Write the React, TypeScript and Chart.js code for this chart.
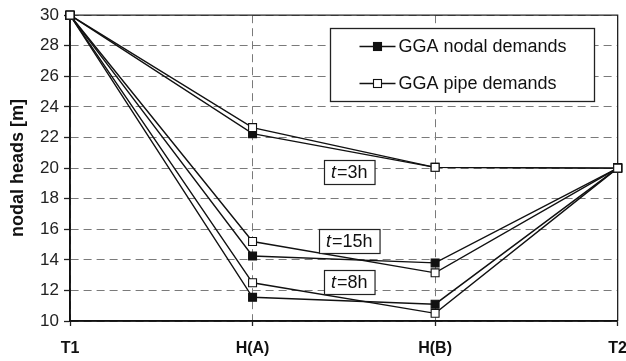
import React, { useEffect, useRef } from 'react';
import { Chart, registerables } from 'chart.js';

Chart.register(...registerables);

const categories = ['T1', 'H(A)', 'H(B)', 'T2'];
const nodal3h = [30, 22.25, 20.05, 20];
const pipe3h = [30, 22.65, 20.05, 20];
const nodal15h = [30, 14.25, 13.8, 20];
const pipe15h = [30, 15.2, 13.15, 20];
const nodal8h = [30, 11.55, 11.1, 20];
const pipe8h = [30, 12.5, 10.5, 20];

const annotationTimes = ['3h', '15h', '8h'];
const annotationX = [1.53, 1.53, 1.53];
const annotationY = [19.77, 15.24, 12.56];

const legendLabels = ['GGA nodal demands', 'GGA pipe demands'];

const FONT = '"Liberation Sans", Arial, Helvetica, sans-serif';

const framePlugin = {
  id: 'frame',
  beforeDatasetsDraw(chart: any) {
    const { ctx, chartArea: a } = chart;
    ctx.save();
    ctx.setLineDash([]);
    ctx.strokeStyle = '#222';
    ctx.lineWidth = 1.3;
    ctx.beginPath();
    ctx.moveTo(a.left, a.top);
    ctx.lineTo(a.right, a.top);
    ctx.lineTo(a.right, a.bottom);
    ctx.stroke();
    ctx.strokeStyle = '#111';
    ctx.lineWidth = 1.6;
    ctx.beginPath();
    ctx.moveTo(a.left, a.top);
    ctx.lineTo(a.left, a.bottom);
    ctx.lineTo(a.right, a.bottom);
    ctx.stroke();
    ctx.restore();
  },
};

const overlayPlugin = {
  id: 'overlay',
  afterDraw(chart: any) {
    const { ctx, chartArea: a, scales } = chart;
    ctx.save();
    ctx.setLineDash([]);
    // annotation boxes
    for (let i = 0; i < annotationTimes.length; i++) {
      const cx = scales.x.getPixelForValue(annotationX[i]);
      const cy = scales.y.getPixelForValue(annotationY[i]);
      const italic = `italic 18px ${FONT}`;
      const normal = `18px ${FONT}`;
      ctx.font = italic;
      const wT = ctx.measureText('t').width;
      ctx.font = normal;
      const rest = '=' + annotationTimes[i];
      const wR = ctx.measureText(rest).width;
      const tw = wT + 1 + wR;
      const bw = tw + 14;
      const bh = 24;
      const bx = Math.round(cx - bw / 2) + 0.5;
      const by = Math.round(cy - bh / 2) + 0.5;
      ctx.fillStyle = '#fff';
      ctx.fillRect(bx, by, bw, bh);
      ctx.strokeStyle = '#222';
      ctx.lineWidth = 1.2;
      ctx.strokeRect(bx, by, bw, bh);
      ctx.fillStyle = '#111';
      ctx.textBaseline = 'middle';
      ctx.textAlign = 'left';
      const tx = cx - tw / 2;
      ctx.font = italic;
      ctx.fillText('t', tx, cy + 1);
      ctx.font = normal;
      ctx.fillText(rest, tx + wT + 1, cy + 1);
    }
    // legend
    const bw = 264;
    const bh = 73;
    const lx = Math.round(a.right - 24 - bw) + 0.5;
    const ly = Math.round(a.top + 13) + 0.5;
    ctx.fillStyle = '#fff';
    ctx.fillRect(lx, ly, bw, bh);
    ctx.strokeStyle = '#222';
    ctx.lineWidth = 1.3;
    ctx.strokeRect(lx, ly, bw, bh);
    const rows = [ly + 18, ly + 55];
    for (let i = 0; i < 2; i++) {
      const ry = rows[i];
      ctx.strokeStyle = '#111';
      ctx.lineWidth = 1.3;
      ctx.beginPath();
      ctx.moveTo(lx + 29, ry);
      ctx.lineTo(lx + 65, ry);
      ctx.stroke();
      const s = 8;
      ctx.fillStyle = i === 0 ? '#111' : '#fff';
      ctx.fillRect(lx + 47 - s / 2, ry - s / 2, s, s);
      ctx.lineWidth = 1.1;
      ctx.strokeRect(lx + 47 - s / 2, ry - s / 2, s, s);
      ctx.fillStyle = '#111';
      ctx.font = `18px ${FONT}`;
      ctx.textBaseline = 'middle';
      ctx.textAlign = 'left';
      ctx.fillText(legendLabels[i], lx + 68, ry + 1);
    }
    ctx.restore();
  },
};

function makeDataset(data: number[], filled: boolean) {
  return {
    data,
    borderColor: '#111',
    borderWidth: 1.4,
    pointStyle: 'rect',
    pointRadius: 5.6,
    pointHoverRadius: 5.6,
    pointBackgroundColor: filled ? '#111' : '#fff',
    pointBorderColor: '#111',
    pointBorderWidth: 1.1,
    tension: 0,
    fill: false,
    clip: false,
  };
}

export default function App() {
  const ref = useRef<HTMLCanvasElement | null>(null);
  useEffect(() => {
    if (!ref.current) return;
    const chart = new Chart(ref.current, {
      type: 'line',
      data: {
        labels: categories,
        datasets: [
          // first datasets are drawn on top
          makeDataset(pipe3h, false),
          makeDataset(pipe15h, false),
          makeDataset(pipe8h, false),
          makeDataset(nodal3h, true),
          makeDataset(nodal15h, true),
          makeDataset(nodal8h, true),
        ] as any,
      },
      options: {
        responsive: false,
        animation: false,
        devicePixelRatio: 1,
        layout: { padding: { top: 12, right: 22, bottom: 0, left: 0 } },
        plugins: {
          legend: { display: false },
          tooltip: { enabled: false },
        },
        scales: {
          x: {
            type: 'category',
            offset: false,
            ticks: {
              color: '#111',
              font: { size: 16, weight: 'bold', family: FONT },
              padding: 13,
              maxRotation: 0,
              autoSkip: false,
            },
            grid: {
              color: '#7a7a7a',
              lineWidth: 1,
              tickLength: 5,
              tickColor: '#222',
              tickWidth: 1.3,
              tickBorderDash: [],
              offset: false,
            },
            border: { color: '#111', width: 1.6, dash: [8, 5] },
            afterFit: (s: any) => {
              s.height = 40;
            },
          },
          y: {
            min: 10,
            max: 30,
            ticks: {
              stepSize: 2,
              color: '#222',
              font: { size: 17, family: FONT },
              padding: 5,
            },
            grid: {
              color: '#7a7a7a',
              lineWidth: 1,
              tickLength: 6,
              tickColor: '#222',
              tickWidth: 1.3,
              tickBorderDash: [],
            },
            border: { color: '#111', width: 1.6, dash: [8, 5] },
            title: {
              display: true,
              text: 'nodal heads [m]',
              color: '#111',
              font: { size: 18, weight: 'bold', family: FONT },
              padding: { top: 7, bottom: 0 },
            },
            afterFit: (s: any) => {
              s.width = 70;
            },
          },
        },
      } as any,
      plugins: [framePlugin, overlayPlugin],
    });
    return () => chart.destroy();
  }, []);
  return (
    <div
      style={{
        position: 'absolute',
        left: 0,
        top: 0,
        width: 626,
        height: 361,
        overflow: 'hidden',
        background: '#fff',
      }}
    >
      <canvas ref={ref} width={640} height={361} style={{ display: 'block', width: 640, height: 361 }} />
    </div>
  );
}
